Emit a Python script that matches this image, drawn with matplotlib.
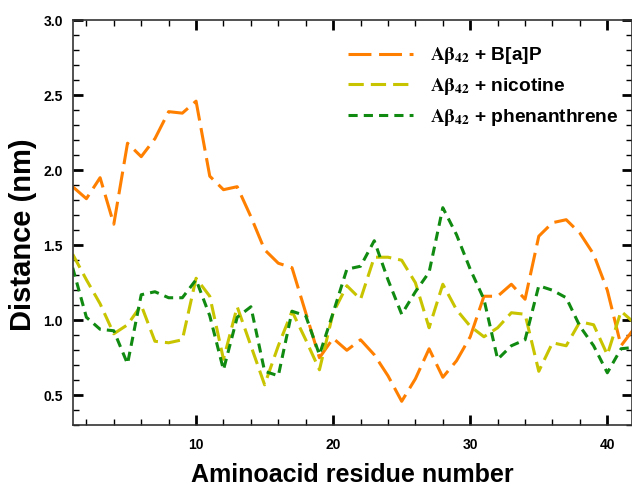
import numpy as np
import matplotlib
matplotlib.use('Agg')
import matplotlib.pyplot as plt
from matplotlib.ticker import MultipleLocator

plt.rcParams['font.family'] = ['Liberation Sans', 'DejaVu Sans']
plt.rcParams['font.weight'] = 'bold'
plt.rcParams['axes.labelweight'] = 'bold'
plt.rcParams['mathtext.fontset'] = 'stix'
plt.rcParams['mathtext.default'] = 'bf'

# residue numbers 1..42
residue = np.arange(1, 43)

# distances (nm)
bap = [1.89, 1.81, 1.95, 1.64, 2.18, 2.09, 2.21, 2.39, 2.38, 2.46,
       1.96, 1.87, 1.89, 1.69, 1.47, 1.38, 1.35, 1.05, 0.75, 0.88,
       0.80, 0.87, 0.77, 0.63, 0.46, 0.61, 0.81, 0.62, 0.73, 0.89,
       1.16, 1.16, 1.24, 1.14, 1.56, 1.65, 1.67, 1.58, 1.44, 1.20,
       0.83, 0.95]
nicotine = [1.44, 1.27, 1.11, 0.91, 0.97, 1.10, 0.86, 0.85, 0.87, 1.28,
            1.16, 0.74, 1.09, 0.83, 0.57, 0.83, 1.06, 0.87, 0.67, 1.05,
            1.23, 1.14, 1.42, 1.42, 1.40, 1.25, 0.95, 1.24, 1.07, 0.96,
            0.89, 0.95, 1.05, 1.04, 0.66, 0.85, 0.83, 0.99, 0.97, 0.77,
            1.06, 0.98]
phenanthrene = [1.35, 1.02, 0.94, 0.93, 0.71, 1.17, 1.19, 1.15, 1.15, 1.27,
                1.03, 0.67, 1.02, 1.09, 0.66, 0.63, 1.06, 1.03, 0.77, 1.05,
                1.34, 1.36, 1.53, 1.27, 1.04, 1.19, 1.32, 1.75, 1.57, 1.34,
                1.14, 0.74, 0.83, 0.87, 1.23, 1.20, 1.15, 0.96, 0.83, 0.65,
                0.81, 0.82]

labels = [r'$A\beta_{42}$ + B[a]P', r'$A\beta_{42}$ + nicotine',
          r'$A\beta_{42}$ + phenanthrene']

fig = plt.figure(figsize=(6.32, 4.9), dpi=100)
ax = fig.add_axes([0.115, 0.132, 0.885, 0.827])

ax.plot(residue, bap, color='#ff8000', lw=2.2, dashes=(7.5, 2.5), label=labels[0])
ax.plot(residue, nicotine, color='#c8c400', lw=2.2, dashes=(5, 2.3), label=labels[1])
ax.plot(residue, phenanthrene, color='#108a10', lw=2.2, dashes=(3, 2), label=labels[2])

ax.set_xlim(1, 41.8)
ax.set_ylim(0.3, 3.0)
ax.xaxis.set_major_locator(MultipleLocator(10))
ax.xaxis.set_minor_locator(MultipleLocator(2))
ax.yaxis.set_major_locator(MultipleLocator(0.5))
ax.yaxis.set_minor_locator(MultipleLocator(0.1))
ax.tick_params(which='both', direction='in', top=True, right=True, labelsize=10)
ax.tick_params(which='major', length=7, width=2)
ax.tick_params(which='minor', length=4, width=1)
ax.tick_params(axis='x', pad=9)
ax.tick_params(axis='y', pad=7)
for s in ax.spines.values():
    s.set_linewidth(1.2)
    s.set_color('#333333')

ax.set_xlabel('Aminoacid residue number', fontsize=18, labelpad=8)
ax.set_ylabel('Distance (nm)', fontsize=21)
ax.yaxis.set_label_coords(-0.063, 0.47)

ax.legend(loc='upper left', bbox_to_anchor=(0.461, 0.98), frameon=False,
          fontsize=13.8, handlelength=3.4, labelspacing=0.5, handletextpad=0.9)

plt.savefig('out.png', dpi=100)
